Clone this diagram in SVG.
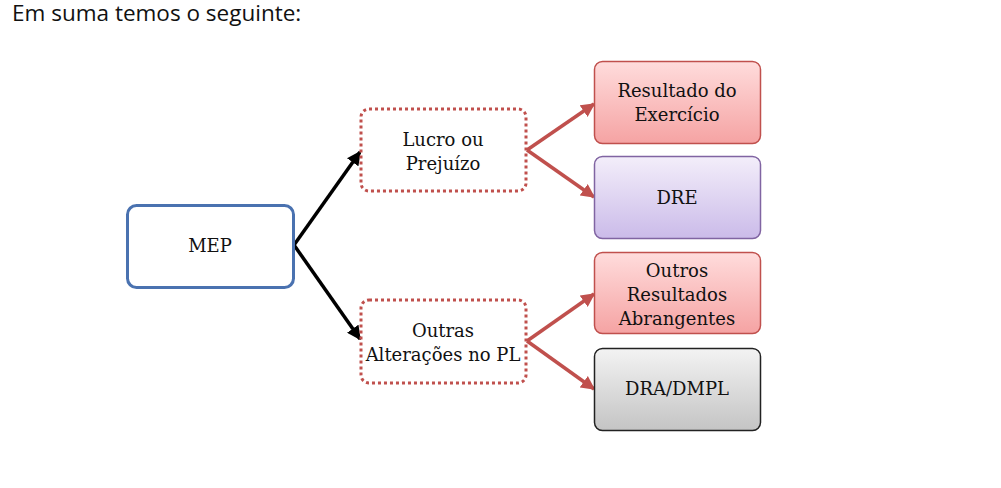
<svg xmlns="http://www.w3.org/2000/svg" width="1001" height="488" viewBox="0 0 1001 488">
<style>
.t{font-family:"DejaVu Serif","Liberation Serif",serif;font-size:18px;fill:#111;text-anchor:middle}
.dot{fill:#fff;stroke:#c0504d;stroke-width:3;stroke-dasharray:3 3}
</style>
<defs>
<linearGradient id="gp" x1="0" y1="0" x2="0" y2="1"><stop offset="0" stop-color="#ffdcdc"/><stop offset="1" stop-color="#f5a3a3"/></linearGradient>
<linearGradient id="gv" x1="0" y1="0" x2="0" y2="1"><stop offset="0" stop-color="#f3eefa"/><stop offset="1" stop-color="#cbbbe9"/></linearGradient>
<linearGradient id="gg" x1="0" y1="0" x2="0" y2="1"><stop offset="0" stop-color="#f3f3f3"/><stop offset="1" stop-color="#c4c4c4"/></linearGradient>
<marker id="ab" viewBox="0 0 10 10" refX="9" refY="5" markerWidth="4" markerHeight="4" orient="auto"><path d="M0,0 L10,5 L0,10 z" fill="#000"/></marker>
<marker id="ar" viewBox="0 0 10 10" refX="9" refY="5" markerWidth="4" markerHeight="4" orient="auto"><path d="M0,0 L10,5 L0,10 z" fill="#c0504d"/></marker>
</defs>
<text x="12" y="21" font-family="Open Sans, Liberation Sans, sans-serif" font-size="22.5" fill="#111">Em suma temos o seguinte:</text>
<g id="connectors" fill="none" stroke-width="3.5">
<line x1="294" y1="245" x2="360" y2="152" stroke="#000" marker-end="url(#ab)"/>
<line x1="294" y1="245" x2="360" y2="339" stroke="#000" marker-end="url(#ab)"/>
<line x1="527" y1="150" x2="594" y2="104" stroke="#c0504d" marker-end="url(#ar)"/>
<line x1="527" y1="150" x2="594" y2="197" stroke="#c0504d" marker-end="url(#ar)"/>
<line x1="527" y1="341" x2="594" y2="294" stroke="#c0504d" marker-end="url(#ar)"/>
<line x1="527" y1="341" x2="594" y2="389" stroke="#c0504d" marker-end="url(#ar)"/>
</g>
<g id="mep"><rect x="127.5" y="205.5" width="166" height="82" rx="9" fill="#fff" stroke="#4a72b0" stroke-width="3"/><text class="t" x="210" y="252">MEP</text></g>
<g id="lucro"><rect class="dot" x="361" y="109" width="165" height="82" rx="8"/><text class="t" x="443" y="146">Lucro ou</text><text class="t" x="443" y="170">Prejuízo</text></g>
<g id="outras"><rect class="dot" x="361" y="300" width="165" height="83" rx="8"/><text class="t" x="443" y="337">Outras</text><text class="t" x="443" y="361">Alterações no PL</text></g>
<g id="resultado"><rect x="594.5" y="61.5" width="166" height="82" rx="8" fill="url(#gp)" stroke="#c0504d" stroke-width="1.5"/><text class="t" x="677" y="97">Resultado do</text><text class="t" x="677" y="121">Exercício</text></g>
<g id="dre"><rect x="594.5" y="156.5" width="166" height="82" rx="8" fill="url(#gv)" stroke="#8064a2" stroke-width="1.5"/><text class="t" x="677" y="204">DRE</text></g>
<g id="ora"><rect x="594.5" y="252.5" width="166" height="81" rx="8" fill="url(#gp)" stroke="#c0504d" stroke-width="1.5"/><text class="t" x="677" y="277">Outros</text><text class="t" x="677" y="301">Resultados</text><text class="t" x="677" y="325">Abrangentes</text></g>
<g id="dra"><rect x="594.5" y="348.5" width="166" height="82" rx="8" fill="url(#gg)" stroke="#222" stroke-width="1.5"/><text class="t" x="677" y="395">DRA/DMPL</text></g>
</svg>
